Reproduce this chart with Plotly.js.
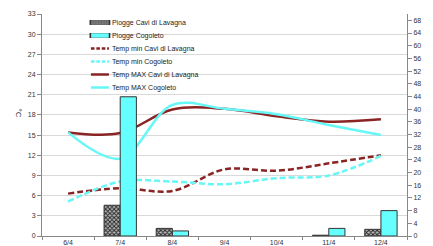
<!DOCTYPE html>
<html>
<head>
<meta charset="utf-8">
<script src="https://cdn.plot.ly/plotly-3.0.1.min.js"></script>
<style>html,body{margin:0;padding:0;background:#fff;}#chart{width:433px;height:246px;}</style>
</head>
<body>
<div id="chart"></div>
<script>
const dates = ['6/4','7/4','8/4','9/4','10/4','11/4','12/4'];
const rainCavi = [null, 9.7, 2.4, null, null, 0.25, 2.1];
const rainCogoleto = [null, 43.9, 1.6, null, null, 2.4, 8.0];
const tMinCavi = [6.3, 7.1, 6.7, 9.9, 9.7, 10.8, 12.0];
const tMinCogoleto = [5.1, 8.1, 8.1, 7.7, 8.6, 9.0, 11.9];
const tMaxCavi = [15.4, 15.3, 18.8, 18.9, 17.8, 17.0, 17.35];
const tMaxCogoleto = [15.4, 11.5, 19.5, 18.9, 18.1, 16.5, 15.0];
const leftTicks = [0,3,6,9,12,15,18,21,24,27,30,33];
const rightTicks = [0,4,8,12,16,20,24,28,32,36,40,44,48,52,56,60,64,68];

const red = '#8a2424';
const cyan = '#66f7f7';

const traces = [
  {type:'bar', name:'Piogge Cavi di Lavagna', x:dates, y:rainCavi, yaxis:'y2',
   marker:{color:'#999', line:{color:'#333', width:1},
     pattern:{shape:'x', fgcolor:'#222', bgcolor:'#b5b5b5', size:3, solidity:0.5}}},
  {type:'bar', name:'Piogge Cogoleto', x:dates, y:rainCogoleto, yaxis:'y2',
   marker:{color:'#66ffff', line:{color:'#333', width:1}}},
  {type:'scatter', mode:'lines', name:'Temp min Cavi di Lavagna', x:dates, y:tMinCavi,
   line:{color:red, width:2.5, dash:'6px,3px', shape:'spline', smoothing:1}},
  {type:'scatter', mode:'lines', name:'Temp min Cogoleto', x:dates, y:tMinCogoleto,
   line:{color:cyan, width:2.5, dash:'6px,3px', shape:'spline', smoothing:1}},
  {type:'scatter', mode:'lines', name:'Temp MAX Cavi di Lavagna', x:dates, y:tMaxCavi,
   line:{color:red, width:2.5, shape:'spline', smoothing:1}},
  {type:'scatter', mode:'lines', name:'Temp MAX Cogoleto', x:dates, y:tMaxCogoleto,
   line:{color:cyan, width:2.5, shape:'spline', smoothing:1}}
];

const tickFont = {family:'Liberation Sans, Arial, sans-serif', size:7, color:'#333'};

const layout = {
  width:433, height:246,
  margin:{l:42, r:26, t:14, b:10, pad:0},
  paper_bgcolor:'#fff', plot_bgcolor:'rgba(0,0,0,0)',
  showlegend:true,
  barmode:'group', bargap:0.38, bargroupgap:0,
  font:tickFont,
  xaxis:{type:'category', tickson:'boundaries', ticks:'outside', ticklen:3, tickcolor:'#888',
    showline:true, linecolor:'#888', linewidth:1, showgrid:false, tickfont:tickFont,
    range:[-0.5, 6.5], fixedrange:true},
  yaxis:{range:[0,33], tickvals:leftTicks, ticks:'outside', ticklen:4, tickcolor:'#888',
    showline:true, linecolor:'#888', linewidth:1, showgrid:true, gridcolor:'#d9d9d9', gridwidth:1,
    zeroline:false, tickfont:tickFont},
  yaxis2:{range:[0,70], tickvals:rightTicks, overlaying:'y', side:'right', ticks:'outside', ticklen:4,
    tickcolor:'#888', showline:true, linecolor:'#888', linewidth:1, showgrid:false, zeroline:false,
    tickfont:tickFont},
  legend:{x:0.082, xanchor:'left', y:1, yanchor:'top', bgcolor:'rgba(0,0,0,0)', borderwidth:0,
    font:{family:'Liberation Sans, Arial, sans-serif', size:7, color:'#222'}, itemwidth:30,
    traceorder:'normal'},
  annotations:[{text:'°C', xref:'paper', yref:'paper', x:-0.082, y:0.554, showarrow:false,
    textangle:90, font:{family:'Liberation Sans, Arial, sans-serif', size:8, color:'#333'}}]
};

Plotly.newPlot('chart', traces, layout, {staticPlot:true, displayModeBar:false}).then(function(){
  const items = document.querySelectorAll('.legend .traces');
  let y0 = null;
  items.forEach(function(t, i){
    const m = /translate\(([^,]+),\s*([^)]+)\)/.exec(t.getAttribute('transform'));
    if(!m) return;
    if(y0 === null) y0 = parseFloat(m[2]) - 6;
    t.setAttribute('transform', 'translate(' + m[1] + ',' + (y0 + i*13) + ')');
    if(i < 2){
      t.querySelectorAll('.legendpoints').forEach(function(p){
        p.setAttribute('transform', 'translate(-4,0) scale(1.6,0.4)');
      });
    } else {
      t.querySelectorAll('.legendlines').forEach(function(p){
        p.setAttribute('transform', 'translate(16,0) scale(0.6,1)');
      });
    }
  });
});
</script>
</body>
</html>
